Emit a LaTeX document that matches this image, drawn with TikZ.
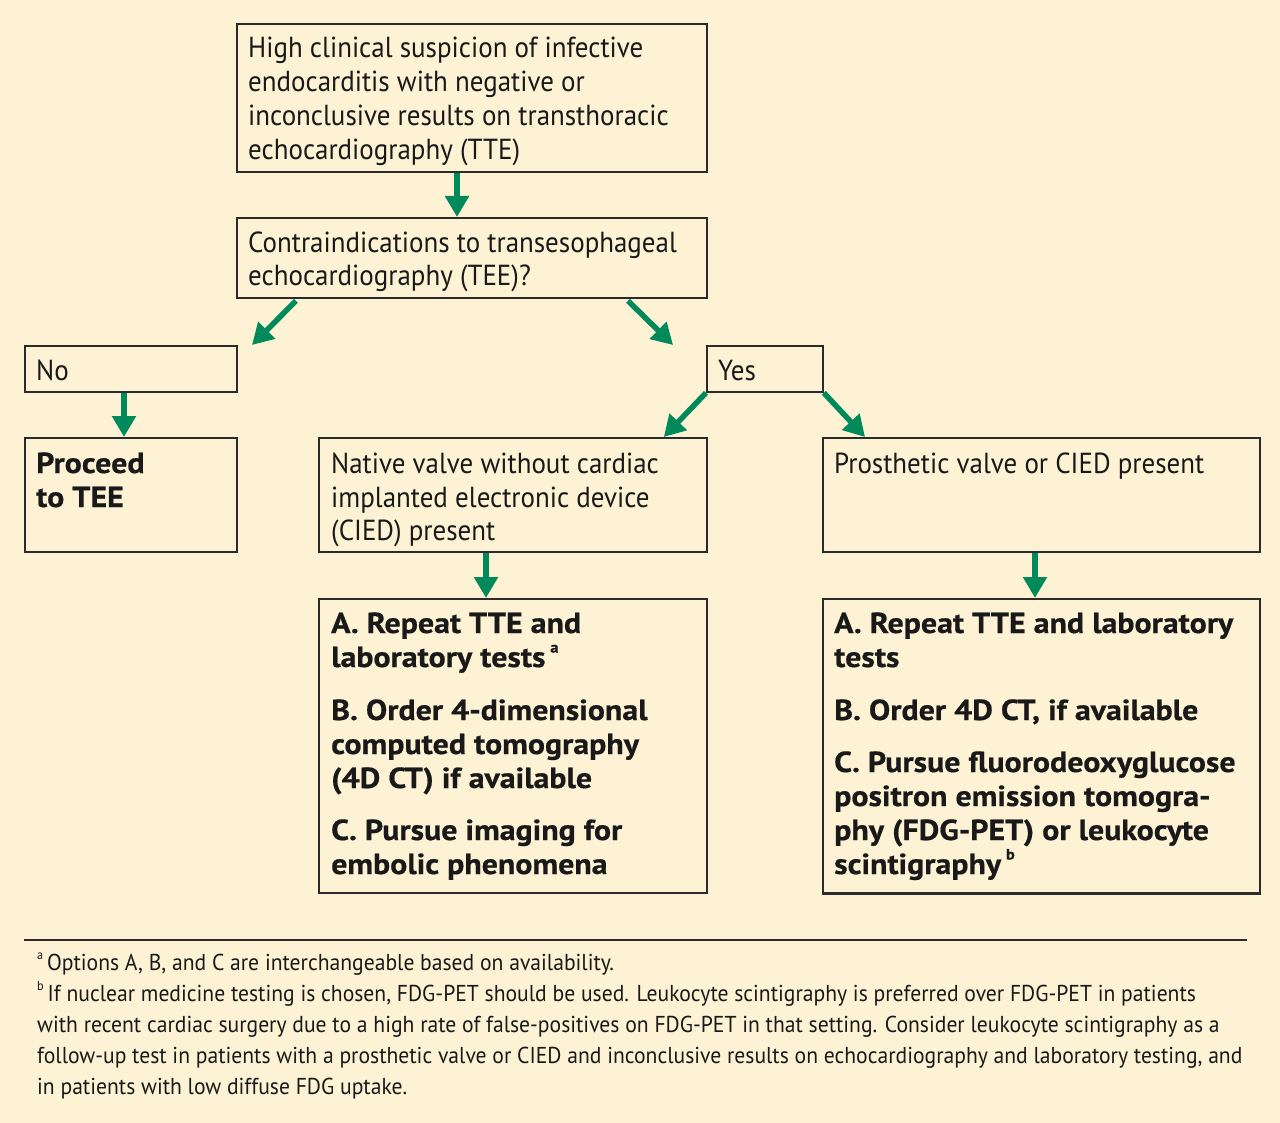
\documentclass[tikz,border=0pt]{standalone}
\usepackage{fontspec}
\setmainfont{PT Sans}[FakeStretch=0.93]
\newfontfamily\fnfont{PT Sans}[FakeStretch=0.94]
\newfontfamily\bfont{PT Sans Bold}[FakeStretch=1.10,FakeBold=0.6]
\usetikzlibrary{arrows.meta,calc}
\definecolor{bg}{HTML}{FDF3D4}
\definecolor{grn}{HTML}{00895A}
\definecolor{edge}{HTML}{2B2B2B}
\newcommand\supmark[1]{\raisebox{0.5em}{\fontsize{15}{15}\selectfont #1}}
\newcommand\fnmark[1]{\raisebox{0.45em}{\fontsize{13}{13}\selectfont #1}}
\begin{document}
\begin{tikzpicture}[x=1pt,y=-1pt,
  box/.style={draw=edge,line width=1.8pt,rectangle,inner sep=0pt,anchor=north west},
  ln/.style={anchor=base west,inner sep=0pt,font=\fontsize{29}{34}\selectfont,text=black!90},
  bln/.style={ln,font=\fontsize{29}{34}\bfont},
  fn/.style={anchor=base west,inner sep=0pt,font=\fontsize{23}{31}\fnfont,text=black!90},
  arr/.style={draw=grn,line width=5.5pt,-{Triangle[width=23pt,length=21pt]}}]
\fill[bg] (0,0) rectangle (1280,1123);
\useasboundingbox (0,0) rectangle (1280,1123);
% boxes
\node[box,minimum width=470pt,minimum height=148pt] (b1) at (236,23) {};
\node[box,minimum width=470pt,minimum height=80pt] (b2) at (236,217) {};
\node[box,minimum width=212pt,minimum height=46pt] (no) at (24,345) {};
\node[box,minimum width=116pt,minimum height=46pt] (yes) at (706,345) {};
\node[box,minimum width=212pt,minimum height=114pt] (proc) at (24,437) {};
\node[box,minimum width=388pt,minimum height=114pt] (nat) at (318,437) {};
\node[box,minimum width=437pt,minimum height=114pt] (pro) at (822,437) {};
\node[box,minimum width=388pt,minimum height=294pt] (natopt) at (318,598) {};
\node[box,minimum width=437pt,minimum height=294pt] (proopt) at (822,598) {};
\draw[edge,line width=3pt] (proopt.south west) -- (proopt.south east);
% texts
\node[ln] (t1a) at (248,58) {High clinical suspicion of infective};
\node[ln] (t1b) at (248,92) {endocarditis with negative or};
\node[ln] (t1c) at (248,126) {inconclusive results on transthoracic};
\node[ln] (t1d) at (248,160) {echocardiography (TTE)};
\node[ln] (t2a) at (248,253) {Contraindications to transesophageal};
\node[ln] (t2b) at (248,286) {echocardiography (TEE)?};
\node[ln] (tno) at (36,380) {No};
\node[ln] (tyes) at (718,380) {Yes};
\node[bln] (tpa) at (36,473) {Proceed};
\node[bln] (tpb) at (36,507) {to TEE};
\node[ln] (tna) at (331,473) {Native valve without cardiac};
\node[ln] (tnb) at (331,507) {implanted electronic device};
\node[ln] (tnc) at (331,540) {(CIED) present};
\node[ln] (tpr) at (834,473) {Prosthetic valve or CIED present};
\node[bln] (o1) at (331,633) {A. Repeat TTE and};
\node[bln] (o2) at (331,667) {laboratory tests\,\supmark{a}};
\node[bln] (o3) at (331,720) {B. Order 4-dimensional};
\node[bln] (o4) at (331,754) {computed tomography};
\node[bln] (o5) at (331,788) {(4D CT) if available};
\node[bln] (o6) at (331,840) {C. Pursue imaging for};
\node[bln] (o7) at (331,874) {embolic phenomena};
\node[bln] (p1) at (834,633) {A. Repeat TTE and laboratory};
\node[bln] (p2) at (834,667) {tests};
\node[bln] (p3) at (834,720) {B. Order 4D CT, if available};
\node[bln] (p4) at (834,772) {C. Pursue fluorodeoxyglucose};
\node[bln] (p5) at (834,806) {positron emission tomogra-};
\node[bln] (p6) at (834,840) {phy (FDG-PET) or leukocyte};
\node[bln] (p7) at (834,874) {scintigraphy\,\supmark{b}};
% rule and footnotes
\coordinate (rl) at (24,940);
\coordinate (rr) at (1247,940);
\draw[edge,line width=1.5pt] (rl) -- (rr);
\node[fn] (f1) at (37,970) {\fnmark{a}\,Options A, B, and C are interchangeable based on availability.};
\node[fn] (f2) at (37,1001) {\fnmark{b}\,If nuclear medicine testing is chosen, FDG-PET should be used. Leukocyte scintigraphy is preferred over FDG-PET in patients};
\node[fn] (f3) at (37,1032) {with recent cardiac surgery due to a high rate of false-positives on FDG-PET in that setting. Consider leukocyte scintigraphy as a};
\node[fn] (f4) at (37,1063) {follow-up test in patients with a prosthetic valve or CIED and inconclusive results on echocardiography and laboratory testing, and};
\node[fn] (f5) at (37,1094) {in patients with low diffuse FDG uptake.};
% arrows
\draw[arr] ($(b1.south west)+(221,0)$) -- ($(b2.north west)+(221,0)$);
\draw[arr] ($(b2.south west)+(60,2)$) -- ($(no.north west)+(228,0)$);
\draw[arr] ($(b2.south west)+(392,2)$) -- ($(yes.north west)+(-33,0)$);
\draw[arr] ($(no.south west)+(100,0)$) -- ($(proc.north west)+(100,0)$);
\draw[arr] (yes.south west) -- ($(nat.north east)+(-44,0)$);
\draw[arr] (yes.south east) -- ($(pro.north west)+(43,0)$);
\draw[arr] ($(nat.south west)+(168,0)$) -- ($(natopt.north west)+(168,0)$);
\draw[arr] ($(pro.south west)+(213,0)$) -- ($(proopt.north west)+(213,0)$);
\end{tikzpicture}
\end{document}
